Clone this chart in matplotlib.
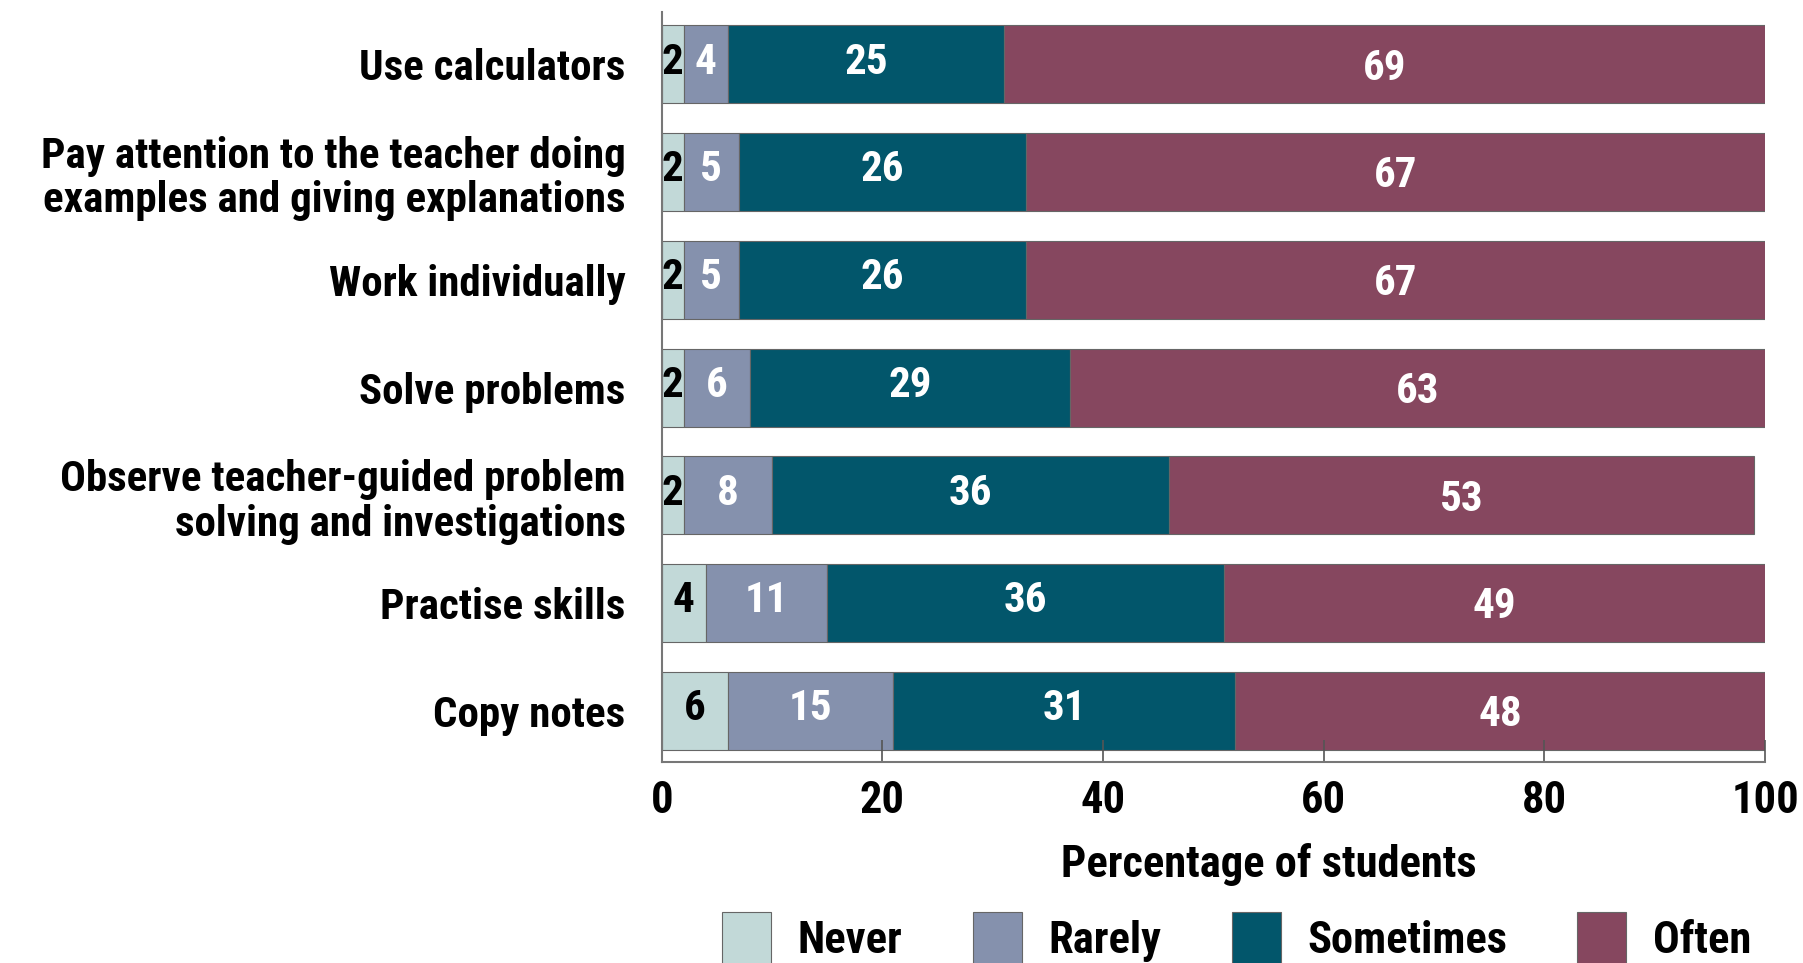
import matplotlib
matplotlib.use("Agg")
from matplotlib import pyplot as plt
from matplotlib import transforms
import numpy as np

categories = ["Use calculators",
              "Pay attention to the teacher doing\nexamples and giving explanations",
              "Work individually",
              "Solve problems",
              "Observe teacher-guided problem\nsolving and investigations",
              "Practise skills",
              "Copy notes"]
never = [2, 2, 2, 2, 2, 4, 6]
rarely = [4, 5, 5, 6, 8, 11, 15]
sometimes = [25, 26, 26, 29, 36, 36, 31]
often = [69, 67, 67, 63, 53, 49, 48]

series_names = ["Never", "Rarely", "Sometimes", "Often"]
colours = ["#c2d9d8", "#8591ad", "#02566b", "#86475f"]
text_colours = ["black", "white", "white", "white"]

plt.rcParams['font.family'] = ['Roboto Condensed', 'Liberation Sans Narrow',
                               'Asap Condensed', 'DejaVu Sans']
plt.rcParams['font.weight'] = 'bold'

fs = 31        # category labels and axis title
fs_num = 31    # numbers inside the bars

fig = plt.figure(figsize=(18.03, 9.63), dpi=100)
ax = fig.add_axes([0.367, 0.209, 0.612, 0.7785])

y = np.arange(len(categories))
left = np.zeros(len(categories))
for values, name, col, tcol in zip([never, rarely, sometimes, often], series_names, colours, text_colours):
    values = np.array(values)
    ax.barh(y, values, left=left, height=0.725, color=col, edgecolor="#666666",
            linewidth=0.8, label=name)
    # the "Often" numbers sit a little lower in their bars
    dy = 0.035 if name == "Often" else -0.02
    for yi, l, v in zip(y, left, values):
        ax.text(l + v / 2, yi + dy, str(v), ha="center", va="center",
                color=tcol, fontsize=fs_num, fontweight="bold")
    left = left + values

ax.set_ylim(len(categories) - 0.527, -0.486)
ax.set_xlim(0, 100)
ax.set_yticks(y)
ax.set_yticklabels(categories, fontsize=fs, fontweight="bold", linespacing=1.12)
# nudge the category labels slightly down
shift = transforms.ScaledTranslation(0, -3 / 72, fig.dpi_scale_trans)
for lab in ax.get_yticklabels():
    lab.set_transform(lab.get_transform() + shift)
ax.set_xticks([0, 20, 40, 60, 80, 100])
ax.tick_params(axis="x", direction="in", length=16, width=1.2, color="#555555",
               labelsize=32, pad=13)
ax.tick_params(axis="y", length=0, pad=26)
for s in ["top", "right"]:
    ax.spines[s].set_visible(False)
for s in ["left", "bottom"]:
    ax.spines[s].set_color("#777777")
    ax.spines[s].set_linewidth(1.5)

ax.set_xlabel("Percentage of students", fontsize=fs + 1, fontweight="bold")
ax.xaxis.set_label_coords(0.55, -0.108)

fig.legend(*ax.get_legend_handles_labels(), loc="center",
           bbox_to_anchor=(0.686, 0.026), ncol=4, frameon=False,
           fontsize=32, handlelength=1.1, handleheight=1.4,
           columnspacing=1.58, handletextpad=0.6, borderpad=0)

fig.savefig("out.png", dpi=100)
